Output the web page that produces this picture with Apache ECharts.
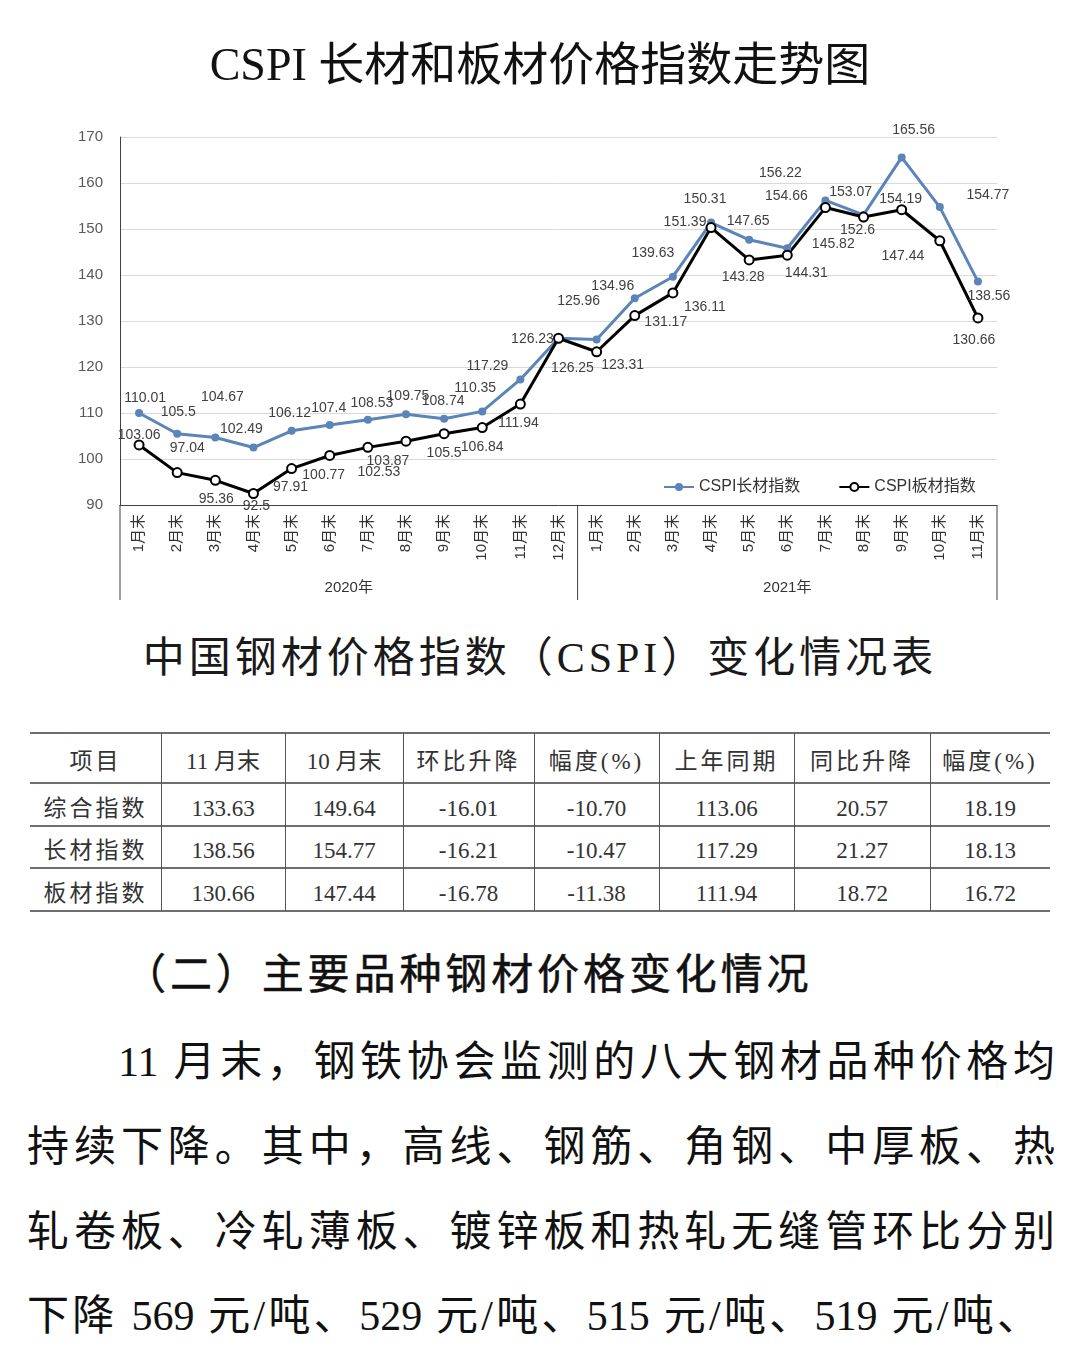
<!DOCTYPE html>
<html><head><meta charset="utf-8">
<script src="https://cdn.jsdelivr.net/npm/echarts@6/dist/echarts.min.js"></script>
<style>
html,body{margin:0;padding:0;background:#fff;}
body{width:1080px;height:1352px;position:relative;overflow:hidden;font-family:"Liberation Serif","Noto Sans CJK SC",serif;color:#1a1a1a;}
#chart{position:absolute;left:0;top:0;width:1080px;height:620px;}
.abs{position:absolute;white-space:nowrap;}
.t2{left:0;width:1080px;top:633px;text-align:center;font-size:42px;letter-spacing:4px;line-height:50px;color:#1a1a1a;}
.hline{position:absolute;height:2px;background:#6e6e6e;}
.vline{position:absolute;width:1px;background:#555;}
.cell{position:absolute;text-align:center;font-size:23px;color:#333;}
.cjk{letter-spacing:3px;}
.h2{left:124px;top:950px;font-size:42px;letter-spacing:3.9px;line-height:50px;color:#111;-webkit-text-stroke:0.5px #111;}
.para{position:absolute;font-size:42px;line-height:50px;text-align:justify;text-align-last:justify;white-space:nowrap;color:#111;}
</style></head>
<body>
<div id="chart"></div>
<div class="abs t2">中国钢材价格指数（CSPI）变化情况表</div>
<div id="tbl"></div>
<div class="abs h2">（二）主要品种钢材价格变化情况</div>
<div id="paras"></div>
<script>
// ---------- data ----------
const categories = ['1月末','2月末','3月末','4月末','5月末','6月末','7月末','8月末','9月末','10月末','11月末','12月末',
                    '1月末','2月末','3月末','4月末','5月末','6月末','7月末','8月末','9月末','10月末','11月末'];
const yearGroups = [{label:'2020年', start:0, end:11},{label:'2021年', start:12, end:22}];
const longIndex  = [110.01,105.5,104.67,102.49,106.12,107.4,108.53,109.75,108.74,110.35,117.29,126.23,
                    125.96,134.96,139.63,151.39,147.65,145.82,156.22,153.07,165.56,154.77,138.56];
const plateIndex = [103.06,97.04,95.36,92.5,97.91,100.77,102.53,103.87,105.5,106.84,111.94,126.25,
                    123.31,131.17,136.11,150.31,143.28,144.31,154.66,152.6,154.19,147.44,130.66];
const seriesNames = ['CSPI长材指数','CSPI板材指数'];
const yTicks = {min:90, max:170, interval:10};

const tableHeader = ['项目','11 月末','10 月末','环比升降','幅度(%)','上年同期','同比升降','幅度(%)'];
const tableRows = [
  ['综合指数','133.63','149.64','-16.01','-10.70','113.06','20.57','18.19'],
  ['长材指数','138.56','154.77','-16.21','-10.47','117.29','21.27','18.13'],
  ['板材指数','130.66','147.44','-16.78','-11.38','111.94','18.72','16.72']
];
const paragraphLines = [
  '11 月末，钢铁协会监测的八大钢材品种价格均',
  '持续下降。其中，高线、钢筋、角钢、中厚板、热',
  '轧卷板、冷轧薄板、镀锌板和热轧无缝管环比分别',
  '下降 569 元/吨、529 元/吨、515 元/吨、519 元/吨、'
];

// ---------- styles (label offsets relative to points) ----------
const longLabelOffset = [[6,-15],[1,-22],[7,-40],[-12,-18],[-2,-18],[-1,-17],[4,-17],[2,-18],[-1,-18],[-7,-23],[-33,-13],[-26,1],
                         [-18,-38],[-22,-12],[-20,-24],[-26,0],[-1,-19],[46,-4],[-45,-27],[-13,-23],[12,-27],[48,-12],[11,15]];
const plateLabelOffset = [[0,-10],[10,-24],[1,19],[3,13],[-1,19],[-6,20],[11,25],[-18,20],[0,19],[0,20],[-2,19],[14,30],
                          [26,13],[31,7],[32,14],[-6,-28],[-6,17],[19,18],[-39,-11],[-6,13],[-1,-11],[-37,15],[-4,22]];

// ---------- table ----------
const colX = [30,161,285,403,534,659,794,930,1050];
const rowY = [733,783,826,868,911];
(function(){
  const t = document.getElementById('tbl');
  let h = '';
  rowY.forEach(y=>{ h += `<div class="hline" style="left:${colX[0]}px;width:${colX[8]-colX[0]}px;top:${y-1}px"></div>`; });
  for(let c=1;c<8;c++){ h += `<div class="vline" style="left:${colX[c]}px;top:${rowY[0]}px;height:${rowY[4]-rowY[0]}px"></div>`; }
  const rows = [tableHeader].concat(tableRows);
  rows.forEach((r,ri)=>{
    const top = rowY[ri], hh = rowY[ri+1]-rowY[ri];
    r.forEach((txt,ci)=>{
      const isCjk = /[\u4e00-\u9fff]/.test(txt) && !/\d/.test(txt);
      h += `<div class="cell${isCjk?' cjk':''}" style="left:${colX[ci]}px;width:${colX[ci+1]-colX[ci]}px;top:${top+4}px;height:${hh}px;line-height:${hh}px">${txt}</div>`;
    });
  });
  t.innerHTML = h;
  const p = document.getElementById('paras');
  const lineTops = [1037,1122,1207,1291];
  p.innerHTML = paragraphLines.map((s,i)=>{
    const left = i===0 ? 118 : 27;
    const width = i===3 ? 1012 : 1055-left;
    return `<div class="para" style="left:${left}px;top:${lineTops[i]}px;width:${width}px">${s}</div>`;
  }).join('');
})();

// ---------- chart ----------
const chart = echarts.init(document.getElementById('chart'));
const sansFont = '"Liberation Sans","Noto Sans CJK SC",sans-serif';
function mk(vals, offs){ return vals.map((v,i)=>({value:v, label:{offset:offs[i]}})); }
chart.setOption({
  animation:false,
  backgroundColor:'#fff',
  title:{text:'CSPI 长材和板材价格指数走势图', left:'center', top:40,
    textStyle:{fontFamily:'"Liberation Serif","Noto Sans CJK SC",serif', fontSize:46, fontWeight:'normal', color:'#111'}},
  legend:{left:658, top:474, itemWidth:30, itemHeight:10, itemGap:38,
    textStyle:{fontFamily:sansFont, fontSize:16, color:'#333'}, data:seriesNames},
  grid:{left:120, top:137, width:877, height:368},
  xAxis:{type:'category', data:categories, boundaryGap:true,
    axisLine:{lineStyle:{color:'#404040', width:1}},
    axisTick:{show:false},
    axisLabel:{interval:0, rotate:90, margin:9, fontFamily:sansFont, fontSize:15, color:'#333'}},
  yAxis:{type:'value', min:yTicks.min, max:yTicks.max, interval:yTicks.interval,
    axisLine:{show:true, lineStyle:{color:'#404040', width:1}},
    axisTick:{show:false},
    splitLine:{lineStyle:{color:'#d9d9d9', width:1}},
    axisLabel:{margin:17, fontFamily:sansFont, fontSize:15, color:'#595959'}},
  series:[
    {name:seriesNames[0], type:'line', data:mk(longIndex,longLabelOffset), symbol:'circle', symbolSize:8,
      lineStyle:{color:'#5b84b8', width:3}, itemStyle:{color:'#5b84b8'},
      label:{show:true, position:'inside', fontFamily:sansFont, fontSize:14, color:'#404040'}},
    {name:seriesNames[1], type:'line', data:mk(plateIndex,plateLabelOffset), symbol:'emptyCircle', symbolSize:9,
      lineStyle:{color:'#000', width:3}, itemStyle:{color:'#000', borderWidth:1.5, borderColor:'#000'},
      label:{show:true, position:'inside', fontFamily:sansFont, fontSize:14, color:'#404040'}}
  ]
});
(function(){
  const px = i => chart.convertToPixel({xAxisIndex:0}, i);
  const band = px(1)-px(0);
  const yb = chart.convertToPixel({yAxisIndex:0}, yTicks.min);
  const g = [];
  const edges = new Set();
  yearGroups.forEach(gr=>{
    const l = px(gr.start)-band/2, r = px(gr.end)+band/2;
    edges.add(Math.round(l*10)/10); edges.add(Math.round(r*10)/10);
    g.push({type:'text', x:(l+r)/2, y:yb+83, style:{text:gr.label, font:'15px '+sansFont, fill:'#333', align:'center', verticalAlign:'middle'}});
  });
  edges.forEach(x=>{
    g.push({type:'line', shape:{x1:x, y1:yb, x2:x, y2:yb+95}, style:{stroke:'#404040', lineWidth:1}});
  });
  chart.setOption({graphic:g});
})();
</script>
</body></html>
